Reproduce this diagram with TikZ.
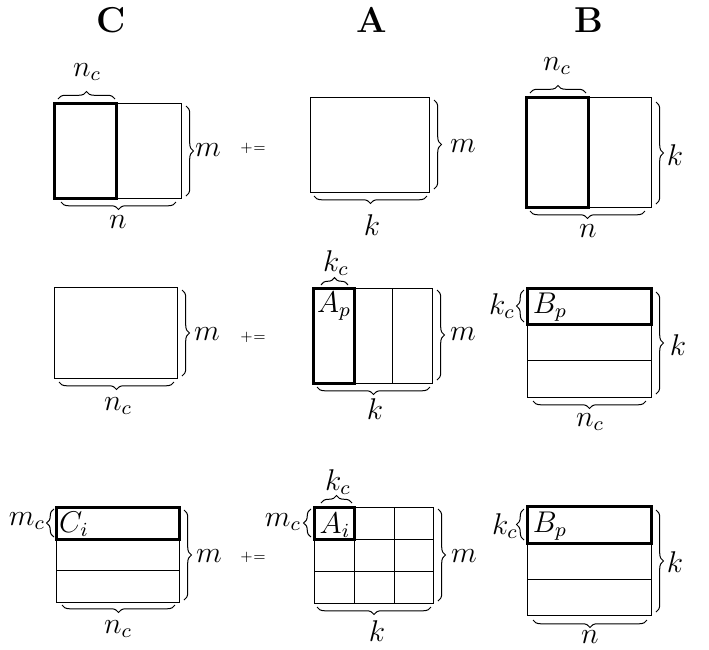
\documentclass[tikz,border=0pt]{standalone}
\usepackage{amsmath}
\usetikzlibrary{decorations.pathreplacing}

\begin{document}
\begin{tikzpicture}[
  x=0.4pt, y=-0.4pt,
  every node/.style={font=\large},
  blk/.style={line width=1.2pt},
  brc/.style={decorate, decoration={brace, amplitude=3pt}},
  title/.style={font=\Large\bfseries},
  op/.style={font=\tiny}
]
\useasboundingbox (0,0) rectangle (709,649);

% Titles
\node[title] (tC) at (111,20) {C};
\node[title] (tA) at (372,20) {A};
\node[title] (tB) at (589,20) {B};

% Row 1
\draw (55,103) rectangle (182,198);
\draw[blk] (55,103) rectangle (117,198);
\draw[brc] (58,99) -- (115,99);
\node (nc1) at (87,72) {$n_c$};
\draw[brc] (176,202) -- (61,202);
\node (n1) at (118,222) {$n$};
\draw[brc] (186,106) -- (186,196);
\node (m1) at (208,150) {$m$};

\node[op] (pe1) at (253,148) {+=};

\draw (311,97) rectangle (430,192);
\draw[brc] (434,100) -- (434,189);
\node (ma1) at (463,146) {$m$};
\draw[brc] (427,196) -- (314,196);
\node (ka1) at (372,225) {$k$};

\draw (527,97) rectangle (652,207);
\draw[blk] (527,97) rectangle (589,207);
\draw[brc] (530,93) -- (586,93);
\node (ncb1) at (557,66) {$n_c$};
\draw[brc] (656,102) -- (656,204);
\node (kb1) at (675,155) {$k$};
\draw[brc] (645,211) -- (530,211);
\node (nb1) at (588,231) {$n$};

% Row 2
\draw (55,287) rectangle (178,378);
\draw[brc] (182,290) -- (182,376);
\node (m2) at (207,334) {$m$};
\draw[brc] (174,382) -- (59,382);
\node (nc2) at (118,406) {$n_c$};

\node[op] (pe2) at (253,337) {+=};

\draw (314,288) rectangle (433,383);
\draw (393,288) -- (393,383);
\draw[blk] (314,288) rectangle (355,383);
\node (Ap) at (334,306) {$A_p$};
\draw[brc] (321,285) -- (348,285);
\node (kca2) at (336,263) {$k_c$};
\draw[brc] (437,290) -- (437,380);
\node (ma2) at (463,334) {$m$};
\draw[brc] (430,387) -- (317,387);
\node (ka2) at (375,409) {$k$};

\draw (528,288) rectangle (652,397);
\draw (528,360) -- (652,360);
\draw[blk] (528,288) rectangle (652,324);
\node (Bp2) at (550,307) {$B_p$};
\draw[brc] (524,322) -- (524,290);
\node (kcb2) at (502,306) {$k_c$};
\draw[brc] (656,292) -- (656,394);
\node (kb2) at (678,345) {$k$};
\draw[brc] (646,401) -- (533,401);
\node (ncb2) at (590,422) {$n_c$};

% Row 3
\draw (57,507) rectangle (180,602);
\draw (57,570) -- (180,570);
\draw[blk] (57,507) rectangle (180,539);
\node (Ci) at (74,524) {$C_i$};
\draw[brc] (54,537) -- (54,509);
\node (mc3) at (27,521) {$m_c$};
\draw[brc] (184,510) -- (184,600);
\node (m3) at (209,556) {$m$};
\draw[brc] (175,605) -- (62,605);
\node (nc3) at (118,629) {$n_c$};

\node[op] (pe3) at (253,557) {+=};

\draw (315,507) rectangle (434,603);
\draw (355,507) -- (355,603) (395,507) -- (395,603);
\draw (315,539) -- (434,539) (315,571) -- (434,571);
\draw[blk] (315,507) rectangle (355,539);
\node (Ai) at (335,525) {$A_i$};
\draw[brc] (321,503) -- (352,503);
\node (kca3) at (338,482) {$k_c$};
\draw[brc] (311,537) -- (311,509);
\node (mca3) at (283,522) {$m_c$};
\draw[brc] (438,509) -- (438,601);
\node (ma3) at (464,556) {$m$};
\draw[brc] (431,607) -- (317,607);
\node (ka3) at (377,631) {$k$};

\draw (528,506) rectangle (652,615);
\draw (528,579) -- (652,579);
\draw[blk] (528,506) rectangle (652,543);
\node (Bp3) at (550,526) {$B_p$};
\draw[brc] (524,540) -- (524,509);
\node (kcb3) at (505,526) {$k_c$};
\draw[brc] (656,510) -- (656,612);
\node (kb3) at (675,562) {$k$};
\draw[brc] (647,620) -- (533,620);
\node (nb3) at (590,637) {$n$};
\end{tikzpicture}
\end{document}
